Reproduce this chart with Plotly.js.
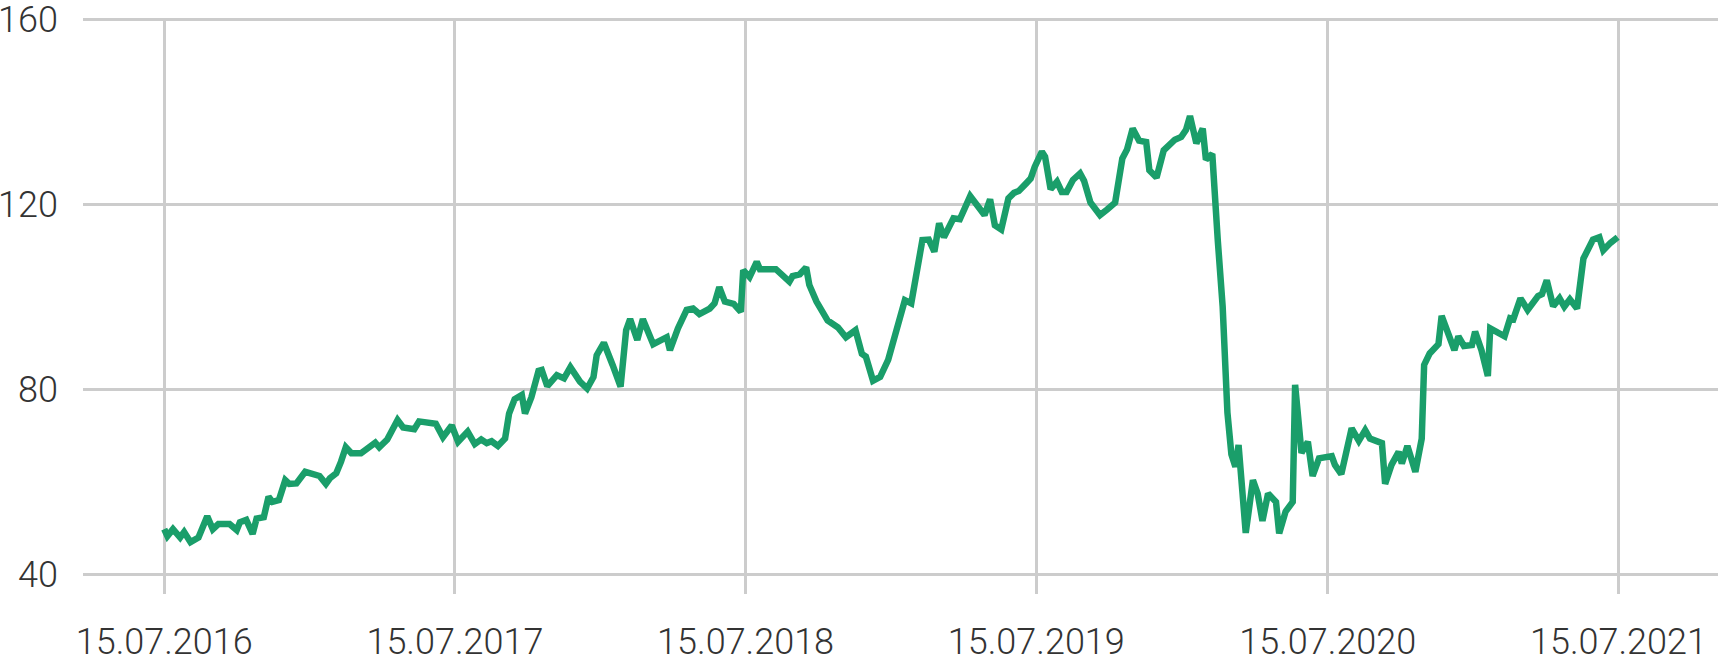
<!DOCTYPE html>
<html>
<head>
<meta charset="utf-8">
<script src="https://cdn.plot.ly/plotly-3.0.1.min.js"></script>
<style>
  html, body { margin: 0; padding: 0; background: #ffffff; }
  #chart { width: 1718px; height: 658px; }
</style>
</head>
<body>
<div id="chart"></div>
<script>
// Dates of the price points
const dates = [
  '2016-07-15','2016-07-19','2016-07-26','2016-08-04','2016-08-09','2016-08-17','2016-08-27','2016-09-07','2016-09-14','2016-09-21',
  '2016-10-05','2016-10-14','2016-10-18','2016-10-26','2016-11-03','2016-11-08','2016-11-17','2016-11-23','2016-11-28','2016-12-06',
  '2016-12-14','2016-12-19','2016-12-28','2017-01-08','2017-01-26','2017-02-03','2017-02-08','2017-02-16','2017-02-22','2017-02-28',
  '2017-03-07','2017-03-19','2017-04-06','2017-04-11','2017-04-21','2017-05-04','2017-05-11','2017-05-25','2017-05-31','2017-06-09',
  '2017-06-21','2017-06-30','2017-07-11',
  '2017-07-19','2017-07-31','2017-08-09','2017-08-17','2017-08-24','2017-08-30','2017-09-07','2017-09-16','2017-09-21','2017-09-28',
  '2017-10-07','2017-10-11','2017-10-19','2017-10-28','2017-11-01','2017-11-08','2017-11-20','2017-11-29','2017-12-07','2017-12-19',
  '2017-12-28','2018-01-05','2018-01-09','2018-01-18','2018-01-29','2018-02-08','2018-02-15','2018-02-20','2018-03-01','2018-03-08',
  '2018-03-21','2018-04-07','2018-04-11','2018-04-21','2018-05-02','2018-05-10','2018-05-18','2018-05-31','2018-06-06','2018-06-12',
  '2018-06-19','2018-06-30','2018-07-09',
  '2018-07-12','2018-07-20','2018-07-29','2018-08-02','2018-08-22','2018-09-08','2018-09-12','2018-09-21','2018-09-29','2018-10-03',
  '2018-10-12','2018-10-26','2018-11-08','2018-11-18','2018-11-30','2018-12-08','2018-12-13','2018-12-22','2018-12-31','2019-01-10',
  '2019-01-21','2019-01-31','2019-02-08','2019-02-19','2019-02-22','2019-03-02','2019-03-09','2019-03-15','2019-03-21','2019-04-02',
  '2019-04-10','2019-04-23','2019-05-01','2019-05-11','2019-05-18','2019-05-24','2019-06-01','2019-06-10','2019-06-17','2019-06-23',
  '2019-07-02','2019-07-08',
  '2019-07-13','2019-07-22','2019-07-26','2019-08-02','2019-08-10','2019-08-16','2019-08-22','2019-08-30','2019-09-08','2019-09-13',
  '2019-09-21','2019-09-26','2019-10-03','2019-10-12','2019-10-22','2019-10-31','2019-11-06','2019-11-13','2019-11-21','2019-11-30',
  '2019-12-04','2019-12-13','2019-12-22','2020-01-05','2020-01-13','2020-01-19','2020-01-24','2020-02-01','2020-02-09','2020-02-13',
  '2020-02-21','2020-02-28','2020-03-05','2020-03-11','2020-03-16','2020-03-21','2020-03-25','2020-04-03','2020-04-12','2020-04-18',
  '2020-04-24','2020-05-01','2020-05-11','2020-05-15','2020-05-23','2020-06-01','2020-06-04','2020-06-12','2020-06-20','2020-06-26',
  '2020-07-04',
  '2020-07-20','2020-07-24','2020-08-01','2020-08-14','2020-08-23','2020-08-31','2020-09-06','2020-09-21','2020-09-25','2020-10-03',
  '2020-10-12','2020-10-16','2020-10-23','2020-11-02','2020-11-10','2020-11-13','2020-11-20','2020-11-27','2020-12-01','2020-12-05',
  '2020-12-14','2020-12-21','2020-12-26','2021-01-02','2021-01-12','2021-01-16','2021-01-24','2021-02-01','2021-02-04','2021-02-14',
  '2021-02-22','2021-03-01','2021-03-05','2021-03-14','2021-03-23','2021-04-05','2021-04-10','2021-04-16','2021-04-24','2021-05-02',
  '2021-05-08','2021-05-15','2021-05-24','2021-06-01','2021-06-13','2021-06-21','2021-06-26','2021-07-05','2021-07-14'
];

// Price values
const prices = [
  49.8,48.3,49.8,48.0,49.2,47.0,48.0,52.6,49.8,50.9,
  50.9,49.6,51.3,51.8,48.8,52.1,52.4,56.8,55.7,56.1,
  60.4,59.6,59.7,62.2,61.3,59.6,60.8,61.9,64.4,67.5,
  66.2,66.2,68.5,67.5,69.2,73.4,71.8,71.4,73.1,73.0,
  72.6,69.7,72.2,
  68.7,70.9,68.2,69.2,68.4,68.8,67.8,69.4,74.8,77.9,
  78.8,74.8,78.3,84.0,84.2,80.7,83.1,82.4,84.8,81.7,
  80.2,82.7,87.4,90.1,85.3,80.6,92.8,95.2,90.7,95.2,
  89.8,91.3,88.5,93.2,97.2,97.5,96.3,97.5,98.6,102.1,
  99.0,98.5,96.8,
  105.8,104.3,107.6,106.0,106.0,103.3,104.5,104.9,106.4,102.6,
  99.0,94.9,93.4,91.3,92.8,87.7,87.1,81.9,82.7,86.4,
  93.6,99.3,98.6,111.2,112.3,112.4,109.8,115.9,112.9,117.0,
  116.8,121.8,119.9,117.7,121.1,115.5,114.6,121.3,122.5,122.9,
  124.5,125.6,
  128.1,131.4,130.3,123.3,124.9,122.7,122.7,125.3,126.7,125.1,
  120.4,119.4,117.7,118.9,120.4,129.9,131.9,136.4,133.8,133.5,
  127.4,125.8,131.7,134.0,134.6,136.1,139.1,133.2,136.4,129.7,
  130.9,112.0,98.0,75.0,66.0,63.3,68.0,49.0,60.4,57.5,
  51.6,57.5,55.7,48.9,53.6,55.7,81.0,66.3,68.7,61.3,
  65.1,
  65.6,63.7,61.7,71.6,68.9,71.2,69.4,68.4,59.6,63.7,
  66.5,64.0,67.8,62.2,69.4,85.3,87.8,89.2,89.8,95.9,
  91.8,88.5,91.5,89.4,89.6,92.5,88.5,82.9,93.2,92.1,
  91.5,95.4,95.2,99.7,97.2,100.2,100.6,103.6,98.0,99.7,
  97.9,99.5,97.5,108.3,112.4,112.9,110.1,111.7,112.9
];

// Axis ticks
const xTickDates = ['2016-07-15','2017-07-15','2018-07-15','2019-07-15','2020-07-15','2021-07-15'];
const xTickLabels = ['15.07.2016','15.07.2017','15.07.2018','15.07.2019','15.07.2020','15.07.2021'];
const yTickValues = [40, 80, 120, 160];
const yTickLabels = ['40', '80', '120', '160'];

const trace = {
  x: dates,
  y: prices,
  type: 'scatter',
  mode: 'lines',
  line: { color: 'rgb(26,158,106)', width: 6.5, shape: 'linear' },
  hoverinfo: 'skip',
  showlegend: false
};

const tickFont = { family: 'Roboto, "Open Sans", sans-serif', size: 36, color: '#333333', weight: 300 };

const layout = {
  width: 1718,
  height: 658,
  margin: { l: 83, r: 0, t: 18, b: 64, pad: 0 },
  paper_bgcolor: '#ffffff',
  plot_bgcolor: '#ffffff',
  showlegend: false,
  xaxis: {
    type: 'date',
    range: ['2016-04-04', '2021-11-17'],
    tickmode: 'array',
    tickvals: xTickDates,
    ticktext: xTickLabels,
    showgrid: true,
    gridcolor: 'rgb(204,204,204)',
    gridwidth: 3,
    zeroline: false,
    showline: false,
    ticks: '',
    tickfont: tickFont,
    ticklabelstandoff: 23,
    ticklabeloverflow: 'allow'
  },
  yaxis: {
    range: [35.79, 160.3],
    tickmode: 'array',
    tickvals: yTickValues,
    ticktext: yTickLabels,
    showgrid: true,
    gridcolor: 'rgb(204,204,204)',
    gridwidth: 3,
    zeroline: false,
    showline: false,
    ticks: '',
    tickfont: tickFont,
    ticklabelstandoff: 24,
    ticklabeloverflow: 'allow'
  }
};

Plotly.newPlot('chart', [trace], layout, { staticPlot: true, displayModeBar: false });
</script>
</body>
</html>
